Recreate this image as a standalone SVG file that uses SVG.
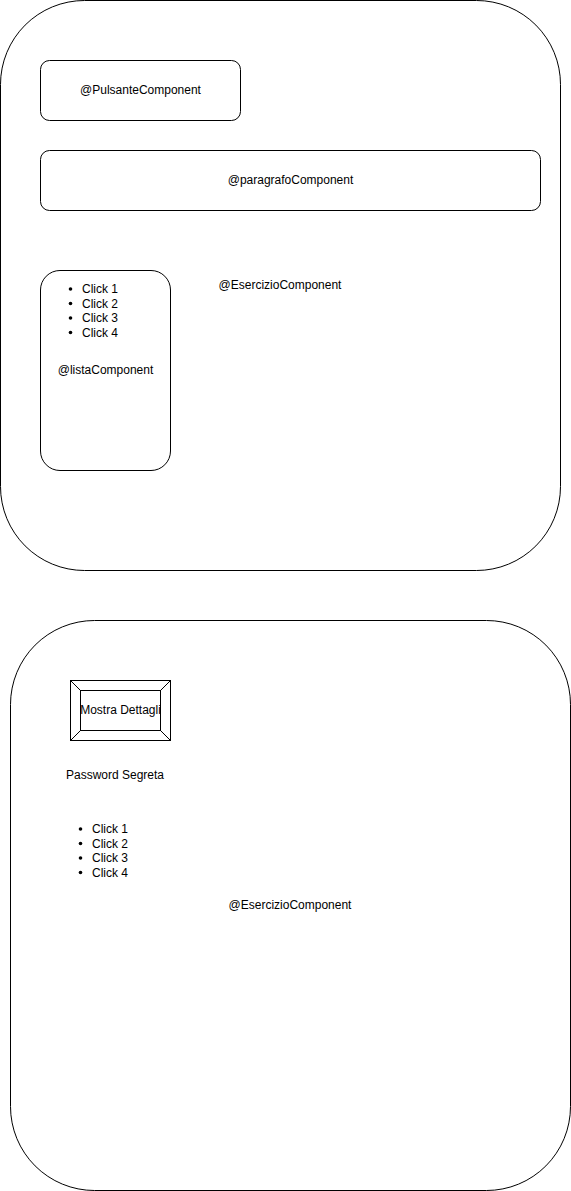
<svg xmlns="http://www.w3.org/2000/svg" width="571" height="1191" viewBox="0 0 571 1191">
<style>
.s{fill:#fff;stroke:#000;stroke-width:1}
.t{font-family:"Liberation Sans",Arial,sans-serif;font-size:12px;fill:#000}
.c{text-anchor:middle}
</style>
<rect width="571" height="1191" fill="#fff"/>
<g id="esercizio1">
<rect class="s" x="0.5" y="0.5" width="560" height="570" rx="84" ry="84"/>
<text class="t c" x="280" y="289">@EsercizioComponent</text>
</g>
<g id="pulsante">
<rect class="s" x="40.5" y="60.5" width="200" height="60" rx="9" ry="9"/>
<text class="t c" x="140.5" y="94">@PulsanteComponent</text>
</g>
<g id="paragrafo">
<rect class="s" x="40.5" y="150.5" width="500" height="60" rx="9" ry="9"/>
<text class="t c" x="290.5" y="184">@paragrafoComponent</text>
</g>
<g id="lista">
<rect class="s" x="40.5" y="270.5" width="130" height="200" rx="19.5" ry="19.5"/>
<circle cx="70.5" cy="289" r="1.8"/>
<circle cx="70.5" cy="303.5" r="1.8"/>
<circle cx="70.5" cy="318" r="1.8"/>
<circle cx="70.5" cy="332.5" r="1.8"/>
<text class="t" x="82" y="293">Click 1</text>
<text class="t" x="82" y="307.5">Click 2</text>
<text class="t" x="82" y="322">Click 3</text>
<text class="t" x="82" y="336.5">Click 4</text>
<text class="t c" x="105.5" y="374">@listaComponent</text>
</g>
<g id="esercizio2">
<rect class="s" x="10.5" y="620.5" width="560" height="570" rx="84" ry="84"/>
<text class="t c" x="290" y="909">@EsercizioComponent</text>
</g>
<g id="bottone">
<rect class="s" x="70.5" y="680.5" width="100" height="60"/>
<rect class="s" x="80.5" y="690.5" width="80" height="40"/>
<path d="M70.5 680.5L80.5 690.5M170.5 680.5L160.5 690.5M70.5 740.5L80.5 730.5M170.5 740.5L160.5 730.5" stroke="#000" fill="none"/>
<text class="t c" x="120.5" y="714">Mostra Dettagli</text>
</g>
<g id="password">
<text class="t c" x="115" y="779">Password Segreta</text>
</g>
<g id="lista2">
<circle cx="80.5" cy="829" r="1.8"/>
<circle cx="80.5" cy="843.5" r="1.8"/>
<circle cx="80.5" cy="858" r="1.8"/>
<circle cx="80.5" cy="872.5" r="1.8"/>
<text class="t" x="92" y="833">Click 1</text>
<text class="t" x="92" y="847.5">Click 2</text>
<text class="t" x="92" y="862">Click 3</text>
<text class="t" x="92" y="876.5">Click 4</text>
</g>
<g id="connectors"></g>
</svg>
